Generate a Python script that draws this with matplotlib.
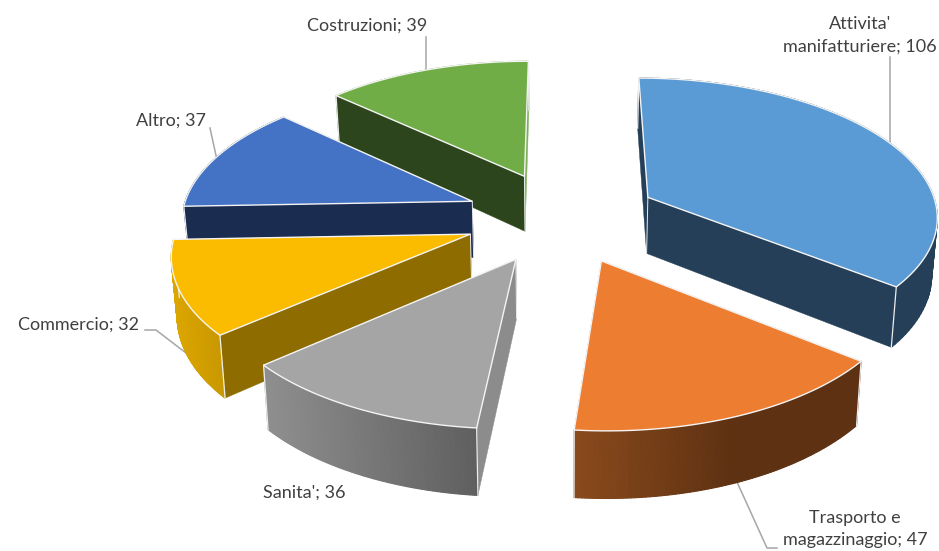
import numpy as np
import matplotlib
matplotlib.use("Agg")
import matplotlib.pyplot as plt
from matplotlib.collections import PolyCollection
from matplotlib.colors import to_rgb

# ---- data ----
categories = ["Attivita'\nmanifatturiere", "Trasporto e\nmagazzinaggio", "Sanita'", "Commercio", "Altro", "Costruzioni"]
values = [106, 47, 36, 32, 37, 39]

# ---- style ----
top_colors = ["#5B9BD5", "#ED7D31", "#A5A5A5", "#FBBC00", "#4472C4", "#70AD47"]
start_wall = ["#243F57", "#5E3112", "#8C8C8C", "#8E6C00", "#1A2C50", "#2D451C"]
end_wall = ["#243F57", "#5E3112", "#8C8C8C", "#8E6C00", "#1A2C50", "#7FAF5E"]
arc_left = ["#243F57", "#8A4A1C", "#8F8F8F", "#DCA600", "#1A2C50", "#7FAF5E"]
arc_right = ["#243F57", "#5E3112", "#5F5F5F", "#C99800", "#1A2C50", "#7FAF5E"]
gradient_stop = [1.0, 0.55, 1.0, 1.0, 1.0, 1.0]
draw_order = [5, 4, 0, 3, 2, 1]
label_xy = [(860, 35), (855, 529), (304, 493), (79, 325), (171, 121), (367, 26)]
leaders = [
    [(890, 57), (890, 145)],
    [(737, 482), (767, 548), (777, 548)],
    [],
    [(145, 330), (156, 330), (186, 353)],
    [(210, 128), (217, 160)],
    [(426, 37), (426, 72)],
]

# ---- projection ----
CX, CY, RX, RY = 562.0, 217.0, 291.0, 138.0
PERSP, EXPLODE, HEIGHT, ROT = 0.12, 1 / 3, 57.0, 0.0


def project(x, y, low=False):
    d = 1 + PERSP * y
    sx = RX * x / d
    sy = CY - RY * y / d
    if low:
        sx *= 0.985
        sy += HEIGHT / d
    return CX + sx, sy


fig = plt.figure(figsize=(9.39, 5.51), dpi=100, facecolor="white")
ax = fig.add_axes([0, 0, 1, 1])
ax.set_xlim(0, 939)
ax.set_ylim(551, 0)
ax.axis("off")

for pts in leaders:
    if pts:
        ax.plot(*zip(*pts), color="#A6A6A6", lw=1.1, zorder=1)

shares = np.array(values, dtype=float) / sum(values) * 2 * np.pi
ends = np.cumsum(shares) + np.radians(ROT)
starts = ends - shares

z = 2
for i in draw_order:
    th = np.linspace(starts[i], ends[i], 90)
    mid = (starts[i] + ends[i]) / 2
    ox, oy = EXPLODE * np.sin(mid), EXPLODE * np.cos(mid)
    x, y = ox + np.sin(th), oy + np.cos(th)
    tx, ty = project(x, y)
    bx, by = project(x, y, low=True)
    ax_t, ay_t = project(ox, oy)
    ax_b, ay_b = project(ox, oy, low=True)

    far = np.cos(mid) > 0.5
    wall_z = z + 0.2 if far else z
    arc_z = z if far else z + 0.2

    ax.fill([ax_t, tx[0], bx[0], ax_b], [ay_t, ty[0], by[0], ay_b], color=start_wall[i], lw=0.3, zorder=wall_z)
    ax.fill([ax_t, tx[-1], bx[-1], ax_b], [ay_t, ty[-1], by[-1], ay_b], color=end_wall[i], lw=0.3, zorder=wall_z)

    span = max(tx.max() - tx.min(), 1)
    quads, cols = [], []
    c0, c1 = np.array(to_rgb(arc_left[i])), np.array(to_rgb(arc_right[i]))
    for k in range(len(th) - 1):
        quads.append([(tx[k], ty[k]), (tx[k + 1], ty[k + 1]), (bx[k + 1], by[k + 1]), (bx[k], by[k])])
        t = ((tx[k] + tx[k + 1]) / 2 - tx.min()) / span
        t = min(t / gradient_stop[i], 1.0)
        cols.append(c0 + (c1 - c0) * t)
    ax.add_collection(PolyCollection(quads, facecolors=cols, edgecolors=cols, linewidths=0.8, zorder=arc_z))

    for j in (0, -1):
        ax.plot([tx[j], bx[j]], [ty[j], by[j]], color="#EDEDED", lw=0.9, zorder=z + 0.4)
    ax.plot([ax_t, ax_b], [ay_t, ay_b], color="#EDEDED", lw=0.7, zorder=z + 0.4)

    ax.fill(np.r_[ax_t, tx], np.r_[ay_t, ty], facecolor=top_colors[i], edgecolor="#F4F4F4", lw=1.0,
            joinstyle="miter", zorder=z + 0.6)
    z += 1

for cat, v, (lx, ly) in zip(categories, values, label_xy):
    ax.text(lx, ly, f"{cat}; {v}", family=["Lato", "DejaVu Sans"], fontsize=13, color="#404040",
            ha="center", va="center", linespacing=1.5, zorder=20)

fig.savefig("out.png", dpi=100)
